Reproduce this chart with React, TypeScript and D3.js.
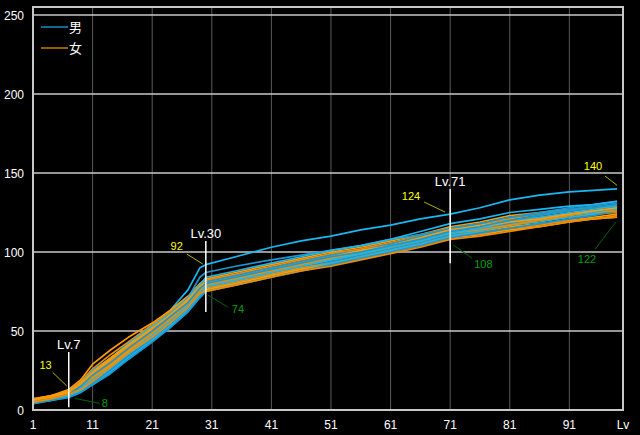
import React from "react";
import * as d3 from "d3";

const levels = [1, 4, 7, 9, 11, 14, 17, 21, 24, 27, 29, 30, 35, 41, 46, 51, 56, 61, 66, 71, 76, 81, 86, 91, 95, 99];

const male: number[][] = [
  [6, 8, 12, 16, 22, 32, 42, 53, 63, 76, 90, 92, 97, 103, 107, 110, 114, 117, 121, 124, 128, 133, 136, 138, 139, 140],
  [5, 7, 11, 15, 21, 30, 39, 50, 60, 71, 84, 87, 91, 95, 98, 101, 104, 108, 111, 115, 118, 122, 125, 128, 130, 132],
  [6, 8, 12, 17, 25, 33, 42, 53, 61, 71, 79, 84, 88, 93, 97, 101, 104, 108, 113, 118, 121, 125, 127, 129, 130, 132],
  [5, 7, 10, 14, 20, 28, 37, 48, 57, 67, 76, 81, 85, 90, 94, 98, 101, 105, 110, 115, 118, 122, 124, 127, 129, 131],
  [5, 7, 9, 13, 18, 26, 35, 46, 55, 65, 74, 79, 83, 88, 92, 96, 100, 104, 108, 113, 116, 120, 122, 125, 127, 129],
  [4, 6, 8, 12, 17, 25, 34, 45, 54, 64, 73, 77, 81, 86, 90, 94, 98, 102, 106, 111, 114, 118, 121, 124, 126, 128],
  [5, 6, 9, 12, 16, 24, 33, 44, 53, 63, 72, 76, 80, 85, 89, 93, 97, 101, 105, 110, 113, 117, 119, 122, 124, 127],
  [4, 6, 8, 11, 16, 23, 32, 43, 52, 62, 71, 75, 79, 84, 88, 92, 96, 100, 104, 109, 112, 115, 118, 121, 123, 126],
  [5, 7, 9, 14, 19, 27, 36, 47, 56, 66, 74, 78, 82, 87, 91, 95, 99, 103, 107, 112, 115, 119, 121, 124, 125, 128],
  [5, 7, 10, 15, 22, 30, 39, 50, 59, 68, 77, 80, 84, 89, 93, 97, 100, 104, 108, 113, 116, 120, 123, 126, 128, 130],
];

const female: number[][] = [
  [7, 9, 13, 19, 29, 38, 46, 55, 63, 72, 80, 83, 87, 92, 96, 100, 103, 107, 111, 116, 119, 123, 125, 127, 128, 130],
  [6, 9, 12, 18, 26, 35, 43, 54, 62, 71, 79, 82, 86, 91, 95, 99, 102, 106, 110, 115, 118, 121, 124, 126, 128, 129],
  [7, 9, 12, 17, 24, 33, 41, 52, 60, 70, 78, 81, 85, 90, 94, 98, 101, 105, 109, 114, 117, 120, 122, 124, 126, 127],
  [6, 8, 11, 16, 22, 31, 40, 51, 60, 69, 77, 79, 83, 88, 92, 96, 100, 104, 108, 112, 115, 118, 120, 122, 124, 125],
  [6, 8, 11, 15, 21, 30, 39, 49, 58, 68, 76, 78, 82, 87, 91, 95, 98, 102, 106, 111, 113, 116, 118, 120, 122, 124],
  [5, 8, 10, 15, 20, 29, 38, 48, 57, 67, 75, 77, 81, 86, 90, 93, 97, 101, 105, 110, 112, 115, 117, 120, 121, 123],
  [6, 8, 11, 14, 19, 28, 37, 47, 56, 66, 74, 76, 80, 85, 89, 92, 96, 100, 104, 109, 111, 114, 116, 119, 121, 122],
  [5, 7, 10, 14, 20, 29, 38, 49, 58, 68, 76, 79, 83, 88, 92, 96, 99, 103, 107, 112, 114, 117, 120, 123, 125, 126],
  [6, 8, 11, 16, 23, 32, 41, 51, 60, 69, 78, 80, 84, 89, 93, 97, 101, 104, 109, 114, 116, 119, 121, 124, 126, 128],
  [5, 7, 10, 13, 18, 27, 36, 46, 55, 65, 74, 75, 79, 84, 88, 91, 95, 99, 103, 108, 110, 113, 116, 119, 121, 122],
];

const xTicks = [1, 11, 21, 31, 41, 51, 61, 71, 81, 91];
const yTicks = [0, 50, 100, 150, 200, 250];
const legendLabels = ["男", "女"];

const markLevels = [7, 30, 71];
const markMax = [13, 92, 124];
const markMin = [8, 74, 108];
const endMax = 140;
const endMin = 122;

// annotation layout offsets (pixels, relative to the marked point)
const markLayout = [
  { top: 37.5, bottom: 10, maxTx: -17, maxTy: -20.5, maxL: [-16, -17, -2, -3.5], minL: [6, 1, 31, 6], minTx: 33, minTy: 10 },
  { top: 23.6, bottom: 19, maxTx: -23, maxTy: -14.6, maxL: [-19, -10.6, -3, -0.6], minL: [2, 2, 22, 14], minTx: 26, minTy: 20 },
  { top: 25, bottom: 24, maxTx: -30, maxTy: -14, maxL: [-26, -12, -5, -2], minL: [3, 5.6, 22, 19], minTx: 24, minTy: 28.6 },
];

const W = 640;
const H = 435;
const maleColors = ["#18b8f4", "#1c98d0"];
const femaleColors = ["#ff9c00", "#f08c00"];
const FONT = "'Liberation Sans', Arial, sans-serif";

export default function App() {
  const x = d3.scaleLinear().domain([1, 100]).range([33, 623]);
  const y = d3.scaleLinear().domain([0, 250]).range([410, 15]);
  const line = d3
    .line<number>()
    .x((_, i) => x(levels[i]))
    .y((d) => y(d));

  const series: { vals: number[]; color: string }[] = [];
  for (let i = 0; i < 10; i++) {
    series.push({ vals: male[i], color: maleColors[i % 2] });
    series.push({ vals: female[i], color: femaleColors[i % 2] });
  }

  const yLead = "#b4b400";
  const gLead = "#006400";
  const endX = x(99);

  return (
    <svg width={W} height={H} style={{ position: "absolute", left: 0, top: 0, background: "#000" }}>
      <rect x={0} y={0} width={W} height={H} fill="#000" />
      {xTicks.slice(1).map((t) => (
        <line key={"vx" + t} x1={x(t)} x2={x(t)} y1={7} y2={410} stroke="#5a5a5a" strokeWidth={1} />
      ))}
      {yTicks.slice(1).map((t) => (
        <line key={"hy" + t} x1={33} x2={623} y1={y(t)} y2={y(t)} stroke="#c8c8c8" strokeWidth={1.3} />
      ))}
      {series.map((s, i) => (
        <path key={i} d={line(s.vals) || ""} fill="none" stroke={s.color} strokeWidth={1.7} strokeLinejoin="round" />
      ))}
      <rect x={33} y={7} width={590} height={403} fill="none" stroke="#c8c8c8" strokeWidth={2} />

      {yTicks.map((t) => (
        <text key={"yl" + t} x={24} y={y(t) + 4.5} textAnchor="end" fill="#fff" fontSize={12} fontFamily={FONT}>
          {t}
        </text>
      ))}
      {xTicks.map((t) => (
        <text key={"xl" + t} x={x(t)} y={429} textAnchor="middle" fill="#fff" fontSize={12} fontFamily={FONT}>
          {t}
        </text>
      ))}
      <text x={x(100)} y={429} textAnchor="middle" fill="#fff" fontSize={12} fontFamily={FONT}>
        Lv
      </text>

      {/* legend */}
      <line x1={41} x2={68} y1={27} y2={27} stroke={maleColors[0]} strokeWidth={1.2} />
      <text x={69} y={32} fill="#fff" fontSize={13} fontFamily="'Noto Sans CJK JP', sans-serif">
        {legendLabels[0]}
      </text>
      <line x1={41} x2={68} y1={48} y2={48} stroke={femaleColors[0]} strokeWidth={1.2} />
      <text x={69} y={53} fill="#fff" fontSize={13} fontFamily="'Noto Sans CJK JP', sans-serif">
        {legendLabels[1]}
      </text>

      {/* level markers */}
      {markLevels.map((lv, i) => {
        const L = markLayout[i];
        const cx = x(lv);
        const yMax = y(markMax[i]);
        const yMin = y(markMin[i]);
        const top = yMax - L.top;
        const bottom = yMin + L.bottom;
        return (
          <g key={"m" + lv}>
            <line x1={cx} x2={cx} y1={top} y2={bottom} stroke="#fff" strokeWidth={1.5} />
            <text x={cx} y={top - 3} textAnchor="middle" fill="#fff" fontSize={13} fontFamily={FONT}>
              {"Lv." + lv}
            </text>
            <line
              x1={cx + L.maxL[0]}
              y1={yMax + L.maxL[1]}
              x2={cx + L.maxL[2]}
              y2={yMax + L.maxL[3]}
              stroke={yLead}
              strokeWidth={1}
            />
            <text x={cx + L.maxTx} y={yMax + L.maxTy} textAnchor="end" fill="#ffff00" fontSize={11} fontFamily={FONT}>
              {markMax[i]}
            </text>
            <line
              x1={cx + L.minL[0]}
              y1={yMin + L.minL[1]}
              x2={cx + L.minL[2]}
              y2={yMin + L.minL[3]}
              stroke={gLead}
              strokeWidth={1}
            />
            <text x={cx + L.minTx} y={yMin + L.minTy} textAnchor="start" fill="#00a000" fontSize={11} fontFamily={FONT}>
              {markMin[i]}
            </text>
          </g>
        );
      })}
      {/* right-end labels */}
      <line x1={endX - 12} y1={y(endMax) - 12.8} x2={endX} y2={y(endMax) - 3.5} stroke={yLead} strokeWidth={1} />
      <text x={endX - 24} y={y(endMax) - 19} textAnchor="middle" fill="#ffff00" fontSize={11} fontFamily={FONT}>
        {endMax}
      </text>
      <line x1={endX - 22} y1={y(endMin) + 32} x2={endX - 1} y2={y(endMin) + 4.5} stroke={gLead} strokeWidth={1} />
      <text x={endX - 30} y={y(endMin) + 46} textAnchor="middle" fill="#00a000" fontSize={11} fontFamily={FONT}>
        {endMin}
      </text>
    </svg>
  );
}
